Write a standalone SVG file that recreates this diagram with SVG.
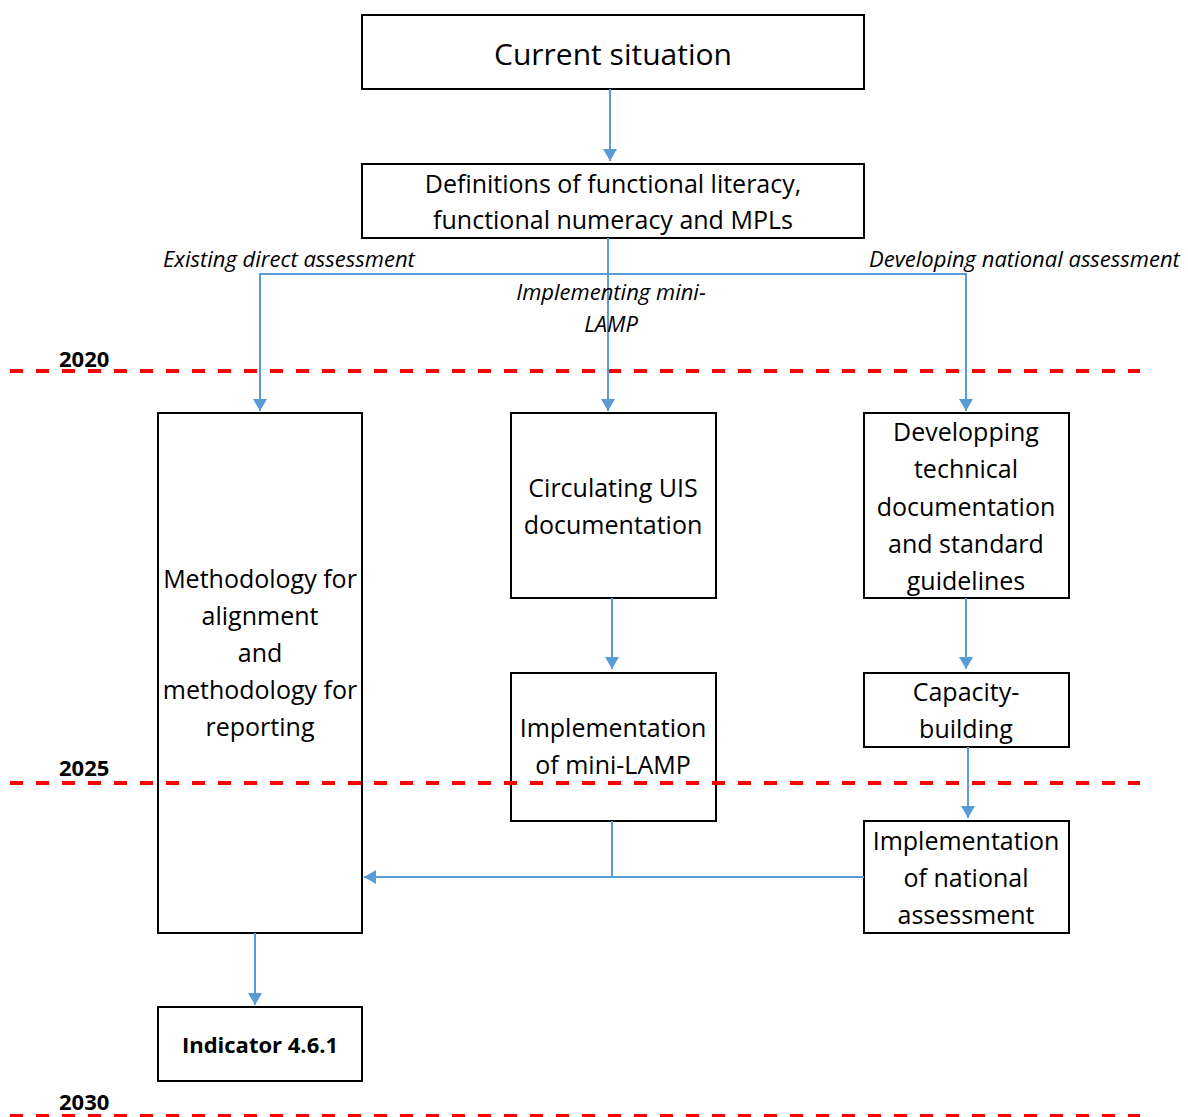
<svg xmlns="http://www.w3.org/2000/svg" width="1188" height="1117" viewBox="0 0 1188 1117">
<style>
.box{fill:#fff;stroke:#000;stroke-width:2}
.t{font-family:"Open Sans","Liberation Sans",Arial,sans-serif;font-size:25px;fill:#000;text-anchor:middle}
.lab{font-family:"Open Sans","Liberation Sans",Arial,sans-serif;font-size:22px;font-style:italic;fill:#000}
.yr{font-family:"Open Sans","Liberation Sans",Arial,sans-serif;font-size:22px;font-weight:bold;fill:#000}
.c{fill:none;stroke:#5B9BD5;stroke-width:2}
.dash{stroke:#FF0000;stroke-width:4;stroke-dasharray:13 13}
</style>
<defs>
<marker id="ah" viewBox="0 0 12 14" refX="12" refY="7" markerWidth="12" markerHeight="14" markerUnits="userSpaceOnUse" orient="auto">
<path d="M0,0 L12,7 L0,14 Z" fill="#5B9BD5"/>
</marker>
</defs>
<g id="current">
<rect class="box" x="362" y="15" width="502" height="74"/>
<text class="t" x="613" y="65" style="font-size:30px">Current situation</text>
</g>
<g id="definitions">
<rect class="box" x="362" y="164" width="502" height="74"/>
<text class="t" x="613" y="193">Definitions of functional literacy,</text>
<text class="t" x="613" y="229">functional numeracy and MPLs</text>
</g>
<g id="methodology">
<rect class="box" x="158" y="413" width="204" height="520"/>
<text class="t" x="260" y="588">Methodology for</text>
<text class="t" x="260" y="625">alignment</text>
<text class="t" x="260" y="662">and</text>
<text class="t" x="260" y="699">methodology for</text>
<text class="t" x="260" y="736">reporting</text>
</g>
<g id="circulating">
<rect class="box" x="511" y="413" width="205" height="185"/>
<text class="t" x="613" y="497">Circulating UIS</text>
<text class="t" x="613" y="534">documentation</text>
</g>
<g id="developping">
<rect class="box" x="864" y="413" width="205" height="185"/>
<text class="t" x="966" y="441">Developping</text>
<text class="t" x="966" y="478">technical</text>
<text class="t" x="966" y="516">documentation</text>
<text class="t" x="966" y="553">and standard</text>
<text class="t" x="966" y="590">guidelines</text>
</g>
<g id="minilamp">
<rect class="box" x="511" y="673" width="205" height="148"/>
<text class="t" x="613" y="737">Implementation</text>
<text class="t" x="613" y="774">of mini-LAMP</text>
</g>
<g id="capacity">
<rect class="box" x="864" y="673" width="205" height="74"/>
<text class="t" x="966" y="701">Capacity-</text>
<text class="t" x="966" y="738">building</text>
</g>
<g id="national">
<rect class="box" x="864" y="821" width="205" height="112"/>
<text class="t" x="966" y="850">Implementation</text>
<text class="t" x="966" y="887">of national</text>
<text class="t" x="966" y="924">assessment</text>
</g>
<g id="indicator">
<rect class="box" x="158" y="1007" width="204" height="74"/>
<text class="t" x="260" y="1053" style="font-weight:bold;font-size:22px">Indicator 4.6.1</text>
</g>
<g id="timeline">
<line class="dash" x1="10" y1="371" x2="1140" y2="371"/>
<line class="dash" x1="10" y1="783" x2="1140" y2="783"/>
<line class="dash" x1="10" y1="1116" x2="1140" y2="1116"/>
<text class="yr" x="59" y="367">2020</text>
<text class="yr" x="59" y="776">2025</text>
<text class="yr" x="59" y="1110">2030</text>
</g>
<g id="connectors">
<path class="c" d="M610,89 V161" marker-end="url(#ah)"/>
<path class="c" d="M608,238 V411" marker-end="url(#ah)"/>
<path class="c" d="M260,411 V274 H966 V411" marker-end="url(#ah)"/>
<path class="c" d="M260,274 V411" marker-end="url(#ah)"/>
<path class="c" d="M612,598 V669" marker-end="url(#ah)"/>
<path class="c" d="M966,598 V669" marker-end="url(#ah)"/>
<path class="c" d="M968,747 V818" marker-end="url(#ah)"/>
<path class="c" d="M612,821 V877"/>
<path class="c" d="M864,877 H364" marker-end="url(#ah)"/>
<path class="c" d="M255,933 V1005" marker-end="url(#ah)"/>
<text class="lab" x="163" y="267">Existing direct assessment</text>
<text class="lab" x="869" y="267">Developing national assessment</text>
<text class="lab" x="611" y="300" text-anchor="middle">Implementing mini-</text>
<text class="lab" x="611" y="332" text-anchor="middle">LAMP</text>
</g>
</svg>
